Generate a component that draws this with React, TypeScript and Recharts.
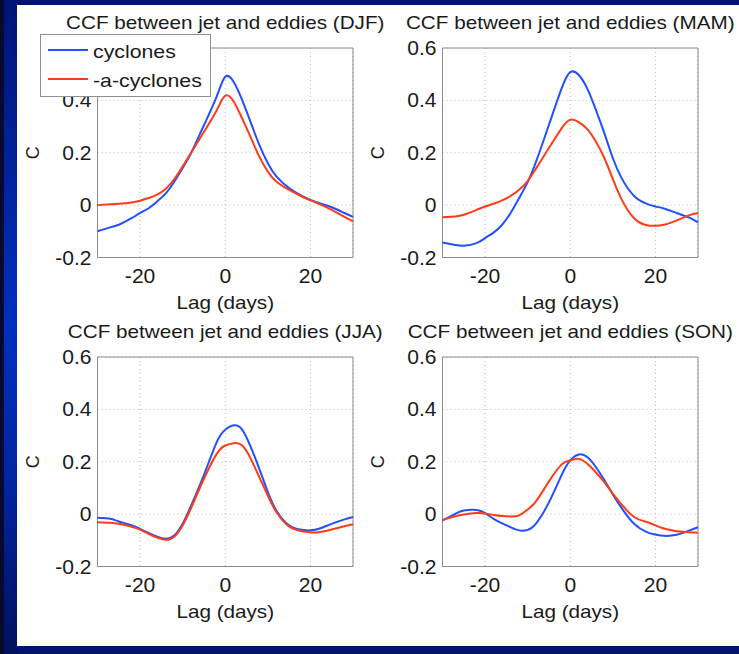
import React from 'react';
import { LineChart, Line, XAxis, YAxis, CartesianGrid, ReferenceArea, Legend } from 'recharts';

const lags = [-30, -27, -25, -22, -20, -18, -16, -14, -12, -10, -8, -5, -2, 0, 2, 4, 6, 8, 10, 12, 15, 18, 20, 22, 25, 28, 30];

const djfCyclones = [-0.100, -0.085, -0.075, -0.050, -0.030, -0.012, 0.014, 0.044, 0.088, 0.142, 0.200, 0.305, 0.415, 0.490, 0.470, 0.400, 0.315, 0.230, 0.160, 0.110, 0.065, 0.035, 0.020, 0.008, -0.008, -0.030, -0.045];
const djfAnticyclones = [0.000, 0.003, 0.005, 0.010, 0.017, 0.027, 0.040, 0.062, 0.098, 0.148, 0.200, 0.280, 0.362, 0.418, 0.395, 0.330, 0.258, 0.185, 0.128, 0.090, 0.058, 0.033, 0.018, 0.005, -0.018, -0.045, -0.062];

const mamCyclones = [-0.143, -0.152, -0.155, -0.145, -0.126, -0.105, -0.075, -0.030, 0.027, 0.088, 0.167, 0.307, 0.447, 0.508, 0.497, 0.445, 0.365, 0.275, 0.180, 0.105, 0.035, 0.005, -0.005, -0.013, -0.030, -0.048, -0.066];
const mamAnticyclones = [-0.046, -0.043, -0.037, -0.018, -0.005, 0.005, 0.018, 0.035, 0.059, 0.092, 0.141, 0.218, 0.294, 0.326, 0.317, 0.290, 0.243, 0.180, 0.100, 0.024, -0.050, -0.077, -0.079, -0.075, -0.058, -0.038, -0.030];

const jjaCyclones = [-0.014, -0.018, -0.028, -0.042, -0.056, -0.072, -0.086, -0.094, -0.082, -0.037, 0.033, 0.150, 0.275, 0.322, 0.339, 0.322, 0.256, 0.173, 0.084, 0.014, -0.043, -0.060, -0.062, -0.056, -0.037, -0.020, -0.011];
const jjaAnticyclones = [-0.031, -0.033, -0.037, -0.048, -0.059, -0.075, -0.090, -0.098, -0.086, -0.043, 0.024, 0.135, 0.230, 0.262, 0.271, 0.262, 0.211, 0.141, 0.071, 0.008, -0.047, -0.065, -0.069, -0.069, -0.059, -0.046, -0.039];

const sonCyclones = [-0.024, 0.001, 0.014, 0.016, 0.004, -0.018, -0.035, -0.050, -0.062, -0.060, -0.035, 0.045, 0.150, 0.205, 0.228, 0.218, 0.180, 0.130, 0.075, 0.025, -0.037, -0.069, -0.078, -0.083, -0.079, -0.062, -0.050];
const sonAnticyclones = [-0.022, -0.008, -0.001, 0.004, 0.002, -0.003, -0.007, -0.009, -0.005, 0.018, 0.050, 0.125, 0.190, 0.205, 0.211, 0.192, 0.160, 0.122, 0.078, 0.038, -0.011, -0.030, -0.043, -0.055, -0.065, -0.069, -0.071];

const seriesNames = ['cyclones', '-a-cyclones'];
const xTicks = [-20, 0, 20];
const yTicks = [-0.2, 0, 0.2, 0.4, 0.6];
const xDomain = [-30, 30];
const yDomain = [-0.2, 0.6];
const titlePrefix = 'CCF between jet and eddies';
const xLabel = 'Lag (days)';
const yLabel = 'C';

const BLUE = '#2250ff';
const RED = '#ff3b18';
const FONT = '"Liberation Sans", Arial, Helvetica, sans-serif';
const TEXT = '#1a1a1a';
const PLOT_W = 255.5;
const PLOT_H = 209.5;
const Y_W = 70;
const X_H = 50;

const fmt = (v: number) => (v === 0 ? '0' : String(v));

type PanelProps = {
  left: number;
  top: number;
  width: number;
  height: number;
  plotLeft: number;
  plotTop: number;
  season: string;
  cyc: number[];
  anti: number[];
  legend?: boolean;
};

function Panel({ left, top, width, height, plotLeft, plotTop, season, cyc, anti, legend }: PanelProps) {
  const data = lags.map((lag, i) => ({ lag, cyclones: cyc[i], anticyclones: anti[i] }));
  const margin = {
    top: plotTop,
    left: plotLeft - Y_W,
    right: width - plotLeft - PLOT_W,
    bottom: height - plotTop - PLOT_H - X_H,
  };
  const plotBottom = plotTop + PLOT_H;
  const cx = plotLeft + PLOT_W / 2;

  const renderXTick = (p: any) => (
    <text
      transform={`translate(${p.x},${plotBottom + 25.8}) scale(1.08,1)`}
      textAnchor="middle"
      fontSize={19.5}
      fontFamily={FONT}
      fill={TEXT}
    >
      {fmt(p.payload.value)}
    </text>
  );
  const renderYTick = (p: any) => (
    <text
      transform={`translate(${plotLeft - 6},${p.y + 7}) scale(1.08,1)`}
      textAnchor="end"
      fontSize={19.5}
      fontFamily={FONT}
      fill={TEXT}
    >
      {fmt(p.payload.value)}
    </text>
  );
  const renderXLabel = () => (
    <g>
      <text
        transform={`translate(${cx},${plotTop - 19.5}) scale(1.15,1)`}
        textAnchor="middle"
        fontSize={18}
        fontFamily={FONT}
        fill={TEXT}
      >
        {`${titlePrefix} (${season})`}
      </text>
      <text
        transform={`translate(${cx},${plotBottom + 51}) scale(1.15,1)`}
        textAnchor="middle"
        fontSize={18}
        fontFamily={FONT}
        fill={TEXT}
      >
        {xLabel}
      </text>
    </g>
  );
  const renderYLabel = () => (
    <text
      transform={`translate(${plotLeft - 64.5},${plotTop + PLOT_H / 2}) rotate(-90)`}
      textAnchor="middle"
      dominantBaseline="central"
      fontSize={18}
      fontFamily={FONT}
      fill={TEXT}
    >
      {yLabel}
    </text>
  );

  const renderLegend = (props: any) => {
    const items = [...(props.payload || [])].sort(
      (a: any, b: any) => seriesNames.indexOf(a.value) - seriesNames.indexOf(b.value)
    );
    return (
      <div
        style={{
          width: 171,
          height: 63,
          boxSizing: 'border-box',
          border: '1px solid #8f8f8f',
          background: '#fff',
          position: 'relative',
          fontFamily: FONT,
        }}
      >
        {items.map((p: any, i: number) => (
          <div key={i} style={{ position: 'absolute', left: 0, top: i === 0 ? 15 : 44 }}>
            <div style={{ position: 'absolute', left: 7, top: -1, width: 40, height: 2, background: p.color }} />
            <span
              style={{
                position: 'absolute',
                left: 52,
                top: -10,
                fontSize: 19,
                lineHeight: '24px',
                color: TEXT,
                whiteSpace: 'nowrap',
                transform: 'scaleX(1.12)',
                transformOrigin: 'left center',
                display: 'block',
              }}
            >
              {p.value}
            </span>
          </div>
        ))}
      </div>
    );
  };

  return (
    <div style={{ position: 'absolute', left, top, width, height }}>
      <LineChart width={width} height={height} data={data} margin={margin}>
        <CartesianGrid stroke="#b8b8b8" strokeDasharray="1 3" />
        <ReferenceArea x1={xDomain[0]} x2={xDomain[1]} y1={yDomain[0]} y2={yDomain[1]} fill="none" stroke="#8c8c8c" strokeWidth={1} />
        <XAxis
          dataKey="lag"
          type="number"
          domain={xDomain}
          ticks={xTicks}
          interval={0}
          height={X_H}
          tickSize={0}
          tickLine={false}
          axisLine={false}
          tick={renderXTick}
          label={renderXLabel}
        />
        <YAxis
          type="number"
          domain={yDomain}
          ticks={yTicks}
          interval={0}
          width={Y_W}
          tickSize={0}
          tickLine={false}
          axisLine={false}
          tick={renderYTick}
          label={renderYLabel}
        />
        <Line dataKey="cyclones" name={seriesNames[0]} type="natural" stroke={BLUE} strokeWidth={2} dot={false} isAnimationActive={false} />
        <Line dataKey="anticyclones" name={seriesNames[1]} type="natural" stroke={RED} strokeWidth={2} dot={false} isAnimationActive={false} />
        {legend && (
          <Legend
            layout="vertical"
            align="center"
            verticalAlign="middle"
            wrapperStyle={{ left: 23, top: 29, width: 171, height: 63 }}
            content={renderLegend}
          />
        )}
      </LineChart>
    </div>
  );
}

export default function App() {
  return (
    <div style={{ position: 'absolute', left: 0, top: 0, width: 739, height: 654, background: '#00146e', overflow: 'hidden' }}>
      <div
        style={{
          position: 'absolute',
          left: 0,
          top: 0,
          width: 17,
          height: 654,
          background: 'linear-gradient(to bottom, #001478 0%, #0030c0 50%, #0024a0 75%, #00105e 100%)',
        }}
      />
      <div style={{ position: 'absolute', left: 0, top: 0, width: 4, height: 654, background: '#060a2e' }} />
      <div style={{ position: 'absolute', left: 17, top: 5, width: 722, height: 641, background: '#ffffff' }} />
      <Panel left={17} top={5} width={400} height={315} plotLeft={80.5} plotTop={43} season="DJF" cyc={djfCyclones} anti={djfAnticyclones} legend />
      <Panel left={365} top={5} width={374} height={315} plotLeft={77.5} plotTop={43} season="MAM" cyc={mamCyclones} anti={mamAnticyclones} />
      <Panel left={17} top={315} width={400} height={325} plotLeft={80.5} plotTop={42} season="JJA" cyc={jjaCyclones} anti={jjaAnticyclones} />
      <Panel left={365} top={315} width={374} height={325} plotLeft={77.5} plotTop={42} season="SON" cyc={sonCyclones} anti={sonAnticyclones} />
    </div>
  );
}
